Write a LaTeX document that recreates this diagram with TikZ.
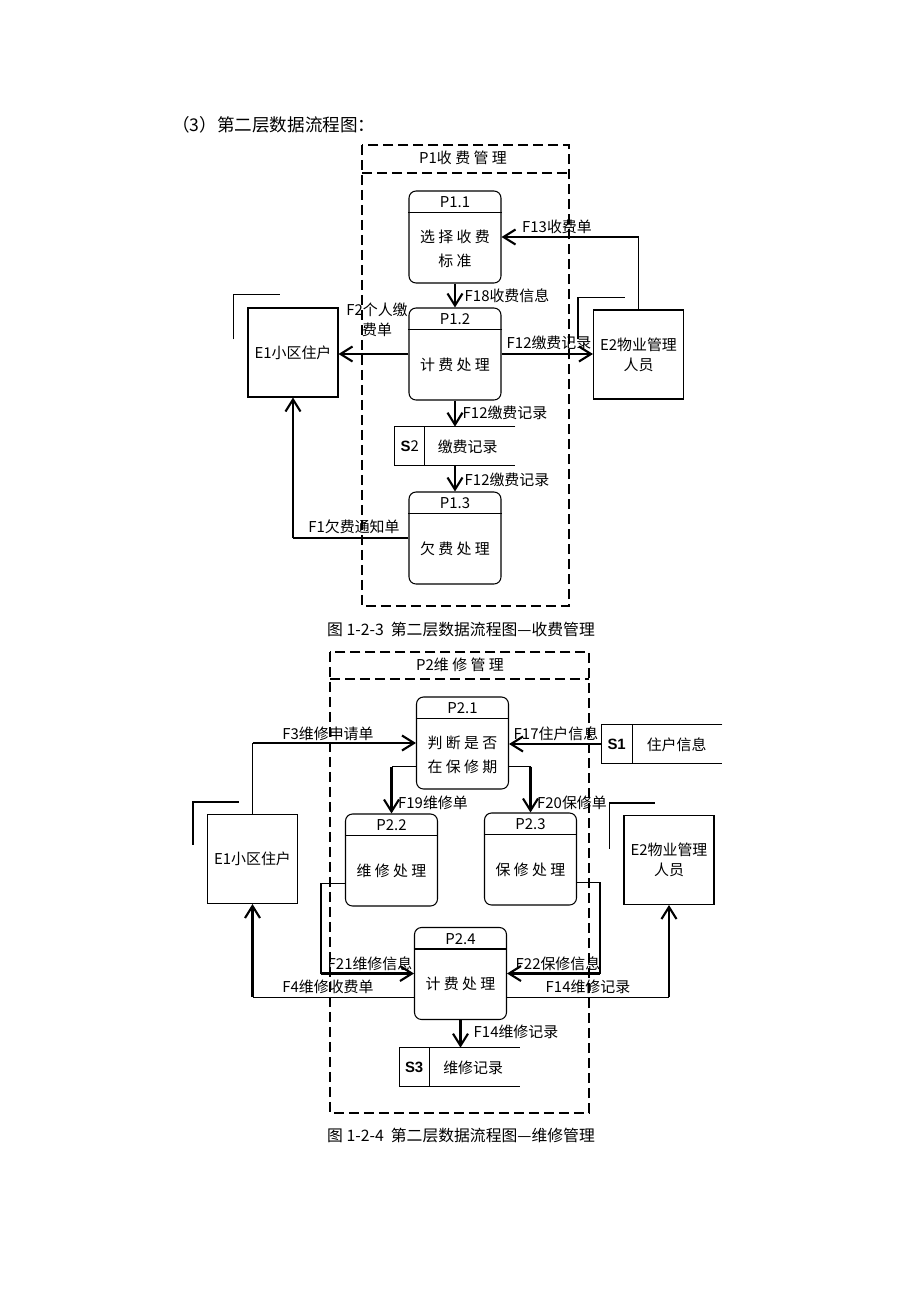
\documentclass[tikz,border=0pt]{standalone}
\usepackage{fontspec}
\setmainfont{Noto Sans CJK SC}
\newfontfamily\latinfont{Liberation Sans}
\usetikzlibrary{calc,arrows.meta}

\tikzset{
  every node/.style={inner sep=0pt},
  lbl/.style={font=\fontsize{8.5}{11.3}\selectfont, align=center},
  body/.style={font=\fontsize{8.5}{13.8}\selectfont, align=center},
  proc/.style={draw, line width=0.6pt, rounded corners=4pt, minimum width=1.84cm, minimum height=1.84cm},
  ent/.style={draw, line width=0.6pt, minimum width=1.8cm, minimum height=1.78cm,
    font=\fontsize{8.5}{11.3}\selectfont, align=center},
  store/.style={minimum width=2.4cm, minimum height=0.76cm},
  wire/.style={line width=0.6pt},
  flow/.style={line width=1.2pt, -{Straight Barb[length=2.4mm,width=3mm]}},
  frame/.style={line width=1.4pt, dash pattern=on 2mm off 1mm},
}

\begin{document}
\begin{tikzpicture}[x=0.02cm, y=-0.02cm]
\useasboundingbox (0,0) rectangle (920,1302);

\node[anchor=west, font=\fontsize{10}{12}\selectfont] (title) at (172,125) {（3）第二层数据流程图：};

% ================= P1 fee management =================
\draw[frame] (362,145) rectangle (569,606);
\draw[frame] (362,173) -- (569,173);
\node[lbl] (P1name) at (463,158) {P1收 费 管 理};

% processes
\node[proc] (P11) at (455,237) {};
\draw[wire] ($(P11.north west)+(0,22)$) -- ($(P11.north east)+(0,22)$);
\node[lbl] (P11id) at ($(P11.north)+(0,12)$) {P1.1};
\node[body] (P11txt) at ($(P11.center)+(0,12)$) {选 择 收 费\\标 准};

\node[proc] (P12) at (455,354) {};
\draw[wire] ($(P12.north west)+(0,22)$) -- ($(P12.north east)+(0,22)$);
\node[lbl] (P12id) at ($(P12.north)+(0,12)$) {P1.2};
\node[body] (P12txt) at ($(P12.center)+(0,11)$) {计 费 处 理};

\node[proc] (P13) at (455,538) {};
\draw[wire] ($(P13.north west)+(0,22)$) -- ($(P13.north east)+(0,22)$);
\node[lbl] (P13id) at ($(P13.north)+(0,12)$) {P1.3};
\node[body] (P13txt) at ($(P13.center)+(0,11)$) {欠 费 处 理};

% external entities
\node[ent] (E1) at (293,352.5) {E1小区住户};
\draw[wire] ($(E1.north west)+(-14,32)$) -- ++(0,-45) -- ++(47,0);

\node[ent] (E2) at (638.5,354.5) {E2物业管理\\人员};
\draw[wire] ($(E2.north west)+(-15,30)$) -- ++(0,-42) -- ++(47,0);

% data store
\node[store] (S2) at (455,446) {};
\draw[wire] (S2.north east) -- (S2.north west) -- (S2.south west) -- (S2.south east);
\draw[wire] ($(S2.north west)+(30,0)$) -- ($(S2.south west)+(30,0)$);
\node[lbl] (S2id) at ($(S2.west)+(15,0)$) {{\latinfont\bfseries S}2};
\node[lbl] (S2txt) at ($(S2.west)+(73,1)$) {缴费记录};

% flows
\draw[flow] (P11.south) -- (P12.north);
\draw[flow] (P12.west) -- (P12.west -| E1.east);
\draw[flow] (P12.east) -- (P12.east -| E2.west);
\coordinate (k13) at (E2.north |- P11.east);
\draw[wire] (E2.north) -- (k13);
\draw[flow] (k13) -- (P11.east);
\draw[flow] (P12.south) -- (S2.north);
\draw[flow] (S2.south) -- (P13.north);
\coordinate (k1) at (P13.west -| E1.south);
\draw[wire] (P13.west) -- (k1);
\draw[flow] (k1) -- (E1.south);

% flow labels
\node[lbl] (lF13) at (557,227) {F13收费单};
\node[lbl] (lF18) at (507,296) {F18收费信息};
\node[lbl] (lF2) at (377,320) {F2个人缴\\费单};
\node[lbl] (lF12a) at (549,343) {F12缴费记录};
\node[lbl] (lF12b) at (505,413) {F12缴费记录};
\node[lbl] (lF12c) at (507,480) {F12缴费记录};
\node[lbl] (lF1) at (354,527) {F1欠费通知单};

\node[font=\fontsize{9}{11}\selectfont] (cap1) at (461,630) {图 1-2-3\ \ 第二层数据流程图—收费管理};

% ================= P2 repair management =================
\draw[frame] (330,652) rectangle (589,1113);
\draw[frame] (330,679) -- (589,679);
\node[lbl] (P2name) at (460,665) {P2维 修 管 理};

% processes
\node[proc] (P21) at (462.5,743) {};
\draw[wire] ($(P21.north west)+(0,22)$) -- ($(P21.north east)+(0,22)$);
\node[lbl] (P21id) at ($(P21.north)+(0,12)$) {P2.1};
\node[body] (P21txt) at ($(P21.center)+(0,12)$) {判 断 是 否\\在 保 修 期};

\node[proc] (P22) at (391.5,860) {};
\draw[wire] ($(P22.north west)+(0,22)$) -- ($(P22.north east)+(0,22)$);
\node[lbl] (P22id) at ($(P22.north)+(0,12)$) {P2.2};
\node[body] (P22txt) at ($(P22.center)+(0,11)$) {维 修 处 理};

\node[proc] (P23) at (530.5,859) {};
\draw[wire] ($(P23.north west)+(0,22)$) -- ($(P23.north east)+(0,22)$);
\node[lbl] (P23id) at ($(P23.north)+(0,12)$) {P2.3};
\node[body] (P23txt) at ($(P23.center)+(0,11)$) {保 修 处 理};

\node[proc] (P24) at (460.5,973.5) {};
\draw[wire] ($(P24.north west)+(0,22)$) -- ($(P24.north east)+(0,22)$);
\node[lbl] (P24id) at ($(P24.north)+(0,12)$) {P2.4};
\node[body] (P24txt) at ($(P24.center)+(0,10)$) {计 费 处 理};

% external entities
\node[ent] (E1b) at (252.5,859) {E1小区住户};
\draw[wire] ($(E1b.north west)+(-14,31)$) -- ++(0,-43) -- ++(46,0);

\node[ent] (E2b) at (669,860) {E2物业管理\\人员};
\draw[wire] ($(E2b.north west)+(-14,34)$) -- ++(0,-46) -- ++(46,0);

% data stores
\node[store] (S1) at (662,744) {};
\draw[wire] (S1.north east) -- (S1.north west) -- (S1.south west) -- (S1.south east);
\draw[wire] ($(S1.north west)+(31,0)$) -- ($(S1.south west)+(31,0)$);
\node[lbl] (S1id) at ($(S1.west)+(15,0)$) {{\latinfont\bfseries S1}};
\node[lbl] (S1txt) at ($(S1.west)+(75,1)$) {住户信息};

\node[store] (S3) at (459.5,1067) {};
\draw[wire] (S3.north east) -- (S3.north west) -- (S3.south west) -- (S3.south east);
\draw[wire] ($(S3.north west)+(30,0)$) -- ($(S3.south west)+(30,0)$);
\node[lbl] (S3id) at ($(S3.west)+(15,0)$) {{\latinfont\bfseries S3}};
\node[lbl] (S3txt) at ($(S3.west)+(74,1)$) {维修记录};

% flows
\coordinate (k3) at (E1b.north |- P21.west);
\draw[wire] (E1b.north) -- (k3);
\draw[flow] (k3) -- (P21.west);
\draw[flow] (S1.west) -- (S1.west -| P21.east);
\coordinate (k19) at (P21.207 -| P22.north);
\draw[wire] (P21.207) -- (k19);
\draw[flow] (k19) -- (P22.north);
\coordinate (k20) at (P21.333 -| P23.north);
\draw[wire] (P21.333) -- (k20);
\draw[flow] (k20) -- (P23.north);
\coordinate (k21a) at ($(P22.207)+(-24,0)$);
\coordinate (k21b) at (k21a |- P24.west);
\draw[wire] (P22.207) -- (k21a) -- (k21b);
\draw[flow] (k21b) -- (P24.west);
\coordinate (k22a) at ($(P23.333)+(23,0)$);
\coordinate (k22b) at (k22a |- P24.east);
\draw[wire] (P23.333) -- (k22a) -- (k22b);
\draw[flow] (k22b) -- (P24.east);
\coordinate (k4) at (P24.207 -| E1b.south);
\draw[wire] (P24.207) -- (k4);
\draw[flow] (k4) -- (E1b.south);
\coordinate (k14) at (P24.333 -| E2b.south);
\draw[wire] (P24.333) -- (k14);
\draw[flow] (k14) -- (E2b.south);
\draw[flow] (P24.south) -- (P24.south |- S3.north);

% flow labels
\node[lbl] (lF3) at (328,734) {F3维修申请单};
\node[lbl] (lF17) at (556,734) {F17住户信息};
\node[lbl] (lF19) at (433,803) {F19维修单};
\node[lbl] (lF20) at (572,803) {F20保修单};
\node[lbl] (lF21) at (370,964) {F21维修信息};
\node[lbl] (lF22) at (558,964) {F22保修信息};
\node[lbl] (lF4) at (328,987) {F4维修收费单};
\node[lbl] (lF14a) at (588,987) {F14维修记录};
\node[lbl] (lF14b) at (516,1032) {F14维修记录};

\node[font=\fontsize{9}{11}\selectfont] (cap2) at (461,1136) {图 1-2-4\ \ 第二层数据流程图—维修管理};

\end{tikzpicture}
\end{document}
